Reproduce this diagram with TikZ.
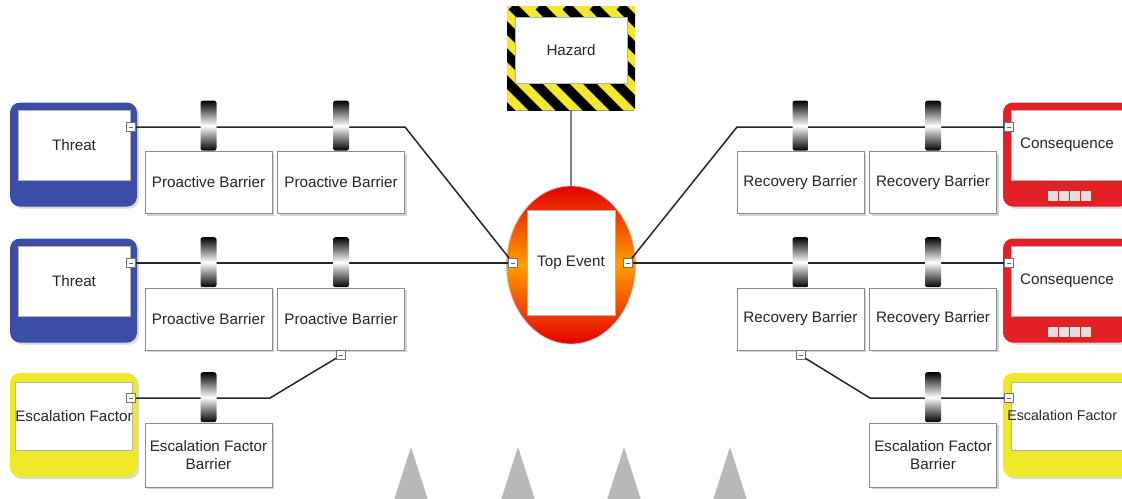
\documentclass[tikz,border=0pt]{standalone}
\usepackage{fontspec}
\setmainfont{Liberation Sans}
\usetikzlibrary{positioning,shapes.geometric,shadows}
\definecolor{threatblue}{RGB}{58,78,168}
\definecolor{conseqred}{RGB}{226,32,38}
\definecolor{escyellow}{RGB}{238,232,40}
\definecolor{hazardyellow}{RGB}{242,232,45}

\begin{document}
\begin{tikzpicture}[x=0.5pt, y=-0.5pt, font=\fontsize{7.6}{9}\selectfont,
    link/.style={draw=black!85, line width=0.75pt},
    hazardlink/.style={draw=black!50, line width=1.1pt},
    barrierbox/.style={rectangle, draw=black!45, fill=white, text=black!85, minimum width=63.5pt,
      minimum height=31pt, inner sep=1pt, align=center,
      drop shadow={shadow xshift=1.2pt, shadow yshift=-1.2pt, opacity=0.35}},
    ring/.style={rectangle, rounded corners=1.2pt, minimum width=8pt, minimum height=25pt,
      inner sep=0pt, top color=black, bottom color=black, middle color=white},
    toggle/.style={rectangle, draw=black!55, fill=white, minimum size=4.5pt, inner sep=0pt,
      path picture={\draw[black!60] ([xshift=-1pt]path picture bounding box.center)
        -- ([xshift=1pt]path picture bounding box.center);}},
    frame/.style={rectangle, rounded corners=5pt, minimum width=63.5pt, minimum height=52pt,
      inner sep=0pt, drop shadow={shadow xshift=1pt, shadow yshift=-1pt, opacity=0.3}},
    inner/.style={rectangle, draw=black!30, fill=white, text=black!85, minimum width=56pt,
      minimum height=35pt, inner sep=0pt},
  ]
  \useasboundingbox (0,0) rectangle (1122,498);
  % gray spikes at the bottom
  \foreach \px in {411,518,624,730}
    \fill[black!28] (\px,447) -- ({\px+17},500) -- ({\px-17},500) -- cycle;

  % hazard
  \node[rectangle, draw=black!40, minimum width=62.5pt, minimum height=52pt, inner sep=0pt] (hazard) at (571,58) {};
  \begin{scope}
    \clip (507,6) rectangle (635,110);
    \fill[hazardyellow] (507,6) rectangle (635,110);
    \foreach \s in {-130,-103,...,140}
      \draw[black, line width=4.8pt] ({507+\s},6) -- ++(110,110);
  \end{scope}
  \node[inner, minimum width=56pt, minimum height=33pt] (hazardtxt) at (571,50) {Hazard};

  % top event
  \node[ellipse, draw=black!25, minimum width=64.5pt, minimum height=79pt, inner sep=0pt,
    top color=red!90!black, bottom color=red!90!black, middle color=orange!75!yellow] (topevent) at (571,265) {};
  \node[inner, minimum width=44pt, minimum height=52.5pt] (toptxt) at (571,263) {Top Event};
  \node[toggle] (teL) at (513,263) {};
  \node[toggle] (teR) at (628,263) {};

  % threats
  \node[frame, fill=threatblue] (threatA) at (73.5,154.5) {};
  \node[inner] (threatAtxt) at (74,145) {Threat};
  \node[toggle] (tgA) at (131,127) {};
  \node[frame, fill=threatblue] (threatB) at (73.5,290.5) {};
  \node[inner] (threatBtxt) at (74,281) {Threat};
  \node[toggle] (tgB) at (131,263) {};
  \node[frame, fill=escyellow] (escL) at (73.5,425) {};
  \node[inner, minimum height=34pt] (escLtxt) at (74,416) {Escalation Factor};
  \node[toggle] (tgE) at (131,398) {};

  % consequences
  \node[frame, fill=conseqred] (conseqA) at (1066.5,154.5) {};
  \node[inner] (conseqAtxt) at (1067,145) {Consequence};
  \node[toggle] (tgC) at (1009,127) {};
  \node[frame, fill=conseqred] (conseqB) at (1066.5,290.5) {};
  \node[inner] (conseqBtxt) at (1067,281) {Consequence};
  \node[toggle] (tgD) at (1009,263) {};
  \foreach \py in {191,327}
    \foreach \i in {0,...,3}
      \fill[black!12] ({1048+\i*11},\py) rectangle ++(10,10);
  \node[frame, fill=escyellow] (escR) at (1066.5,425) {};
  \node[inner, minimum height=34pt] (escRbox) at (1067,416) {};
  \node[anchor=west, inner sep=0pt, text=black!85, font=\fontsize{7.1}{9}\selectfont] (escRtxt) at (1007,415) {Escalation Factor};
  \node[toggle] (tgF) at (1009,398) {};

  % barriers
  \node[barrierbox] (pbA1) at (208.5,182.5) {Proactive Barrier};
  \node[barrierbox] (pbA2) at (341,182.5) {Proactive Barrier};
  \node[barrierbox] (pbB1) at (208.5,319) {Proactive Barrier};
  \node[barrierbox] (pbB2) at (341,319) {Proactive Barrier};
  \node[barrierbox, minimum height=32pt] (efbL) at (208.5,455) {Escalation Factor\\Barrier};
  \node[barrierbox] (rbA1) at (800.5,182.5) {Recovery Barrier};
  \node[barrierbox] (rbA2) at (933,182.5) {Recovery Barrier};
  \node[barrierbox] (rbB1) at (800.5,319) {Recovery Barrier};
  \node[barrierbox] (rbB2) at (933,319) {Recovery Barrier};
  \node[barrierbox, minimum height=32pt] (efbR) at (933,455) {Escalation Factor\\Barrier};
  \node[toggle, below=0pt of pbB2] (pbB2tg) {};
  \node[toggle, below=0pt of rbB1] (rbB1tg) {};

  % connectors
  \draw[hazardlink] (hazard) -- (topevent);
  \draw[link] (tgA) -- (405,127) -- (teL);
  \draw[link] (tgB) -- (teL);
  \draw[link] (tgE) -- (270,398) -- (pbB2tg);
  \draw[link] (teR) -- (737,127) -- (tgC);
  \draw[link] (teR) -- (tgD);
  \draw[link] (rbB1tg) -- (870,398) -- (tgF);

  % barrier rings on the lines
  \foreach \b in {pbA1,pbA2,pbB1,pbB2,efbL,rbA1,rbA2,rbB1,rbB2,efbR}
    \node[ring, above=0pt of \b] (ring\b) {};
\end{tikzpicture}
\end{document}
